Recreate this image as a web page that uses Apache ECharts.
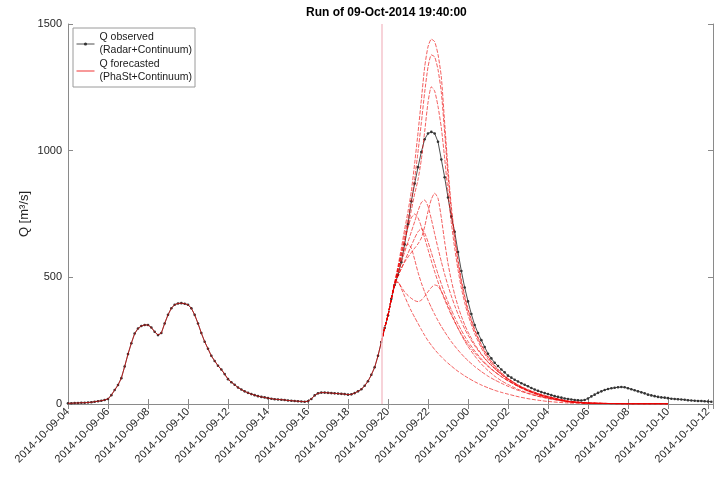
<!DOCTYPE html>
<html>
<head>
<meta charset="utf-8">
<script src="https://cdn.jsdelivr.net/npm/echarts@6/dist/echarts.min.js"></script>
<style>
html,body{margin:0;padding:0;background:#fff;}
#chart{width:715px;height:477px;}
</style>
</head>
<body>
<div id="chart"></div>
<script>
// ---------- DATA ----------
const titleText = 'Run of 09-Oct-2014 19:40:00';
const obsName = 'Q observed\n(Radar+Continuum)';
const fcName = 'Q forecasted\n(PhaSt+Continuum)';
const yLabel = 'Q [m\u00B3/s]';
const yTicks = [0, 500, 1000, 1500];
const obsStart = '2014-10-09T04:00:00Z';
const obsStepMinutes = 10;
const runTime = '2014-10-09T19:40:00Z';
const axisStart = '2014-10-09T04:00:00Z';
const axisEnd = '2014-10-10T12:15:00Z';

// observed discharge, every 10 minutes from 2014-10-09 04:00
const obsValues = [
  3, 3, 4, 4, 5, 5,
  6, 7, 9, 11, 13, 16,
  20, 35, 55, 75, 102, 148,
  197, 240, 278, 298, 308, 312,
  312, 302, 285, 272, 280, 318,
  352, 378, 392, 397, 398, 396,
  392, 378, 352, 318, 280, 246,
  218, 190, 170, 151, 136, 118,
  98, 86, 76, 65, 57, 50,
  44, 39, 35, 31, 28, 26,
  23, 21, 19, 18, 17, 16,
  14, 13, 12, 11, 10, 9,
  11, 20, 34, 42, 45, 45,
  44, 43, 42, 41, 40, 39,
  37, 38, 43, 50, 58, 72,
  90, 115, 145, 190, 245, 300,
  350, 415, 470, 510, 560, 630,
  710, 800, 870, 935, 995, 1045,
  1068, 1074, 1068, 1035, 965, 895,
  815, 740, 680, 600, 525, 460,
  405, 355, 312, 280, 252, 225,
  198, 180, 163, 150, 136, 125,
  112, 104, 96, 89, 82, 76,
  70, 63, 57, 52, 47, 43,
  39, 35, 31, 28, 25, 22,
  20, 18, 16, 15, 14, 16,
  22, 30, 37, 44, 50, 55,
  59, 62, 64, 66, 67, 66,
  62, 58, 54, 50, 46, 42,
  37, 34, 31, 28, 26, 25,
  23, 21, 20, 19, 18, 17,
  15, 14, 13, 12, 12, 11,
  10, 9
];

// forecast time stamps
const fcTimes = [
  '2014-10-09 19:40','2014-10-09 19:50',
  '2014-10-09 20:00','2014-10-09 20:10','2014-10-09 20:20','2014-10-09 20:30','2014-10-09 20:40','2014-10-09 20:50',
  '2014-10-09 21:00','2014-10-09 21:10','2014-10-09 21:20','2014-10-09 21:30','2014-10-09 21:40','2014-10-09 21:50',
  '2014-10-09 22:00','2014-10-09 22:10','2014-10-09 22:20','2014-10-09 22:30','2014-10-09 22:40','2014-10-09 22:50',
  '2014-10-09 23:00','2014-10-09 23:10','2014-10-09 23:20','2014-10-09 23:30','2014-10-09 23:40','2014-10-09 23:50',
  '2014-10-10 00:00','2014-10-10 00:20','2014-10-10 00:40','2014-10-10 01:00','2014-10-10 01:20','2014-10-10 01:40',
  '2014-10-10 02:00','2014-10-10 02:30','2014-10-10 03:00','2014-10-10 03:30','2014-10-10 04:00',
  '2014-10-10 05:00','2014-10-10 06:00','2014-10-10 07:00','2014-10-10 08:00','2014-10-10 09:00','2014-10-10 10:00'
];

// forecast ensemble members
const fc1 = [245,300,350,415,480,545,615,690,760,840,950,1070,1200,1330,1410,1440,1430,1380,1290,1110,930,780,665,570,490,428,375,295,235,188,152,124,101,74,53,38,26,10,4,2,1,1,1];
const fc2 = [245,300,350,415,478,538,600,665,730,800,890,995,1110,1230,1330,1378,1370,1320,1230,1070,900,760,650,560,482,420,368,290,230,184,149,121,98,72,52,37,25,9,4,2,1,1,1];
const fc3 = [245,300,350,415,475,530,585,640,700,765,830,885,965,1075,1190,1252,1235,1175,1090,970,835,715,615,530,458,400,352,278,221,177,143,116,94,69,50,35,24,9,3,2,1,1,1];
const fc4 = [245,300,350,415,468,505,535,560,580,598,615,632,655,700,760,808,832,812,735,640,555,488,432,386,347,313,284,236,198,166,139,117,98,74,55,41,29,11,4,2,1,1,1];
const fc5 = [245,300,350,415,470,515,558,600,640,680,720,762,795,805,780,730,672,615,562,512,467,426,389,355,325,297,272,230,195,165,140,118,100,76,57,42,30,12,4,2,1,1,1];
const fc6 = [245,300,350,415,472,530,590,648,700,735,750,735,700,655,610,565,522,482,445,411,380,351,324,299,276,255,236,202,173,148,127,108,92,70,53,39,28,11,4,2,1,1,1];
const fc7 = [245,300,350,415,470,505,535,565,595,625,655,680,692,675,640,598,555,513,474,437,403,372,343,316,291,268,247,210,178,151,128,108,91,70,53,39,28,11,4,2,1,1,1];
const fc8 = [245,300,350,415,472,525,575,612,632,615,570,520,478,442,410,381,354,329,306,285,265,246,229,213,198,184,171,148,128,110,95,82,70,54,41,30,22,9,3,2,1,1,1];
const fc9 = [245,300,350,415,475,480,462,442,428,417,408,404,410,425,443,460,470,465,445,418,388,357,327,299,273,249,227,190,158,132,110,92,77,58,43,31,22,8,3,2,1,1,1];
const fc10 = [245,300,350,415,478,482,455,425,395,367,342,318,294,271,250,232,215,200,186,173,161,150,139,129,120,111,103,88,75,64,54,46,39,29,21,15,10,4,2,1,1,1,0];
const fcMembers = [fc1, fc2, fc3, fc4, fc5, fc6, fc7, fc8, fc9, fc10];

// ---------- BUILD ----------
const ms = s => new Date(s.indexOf('T') > 0 ? s : s.replace(' ', 'T') + ':00Z').getTime();
const t0 = ms(obsStart);
const step = obsStepMinutes * 60000;
const tRun = ms(runTime);
const obsData = obsValues.map((v, i) => [t0 + i * step, v]);
const histData = obsData.filter(p => p[0] <= tRun);
const fcT = fcTimes.map(ms);

const pad = n => (n < 10 ? '0' : '') + n;
const fmt = v => {
  const d = new Date(v);
  if (d.getUTCMinutes() !== 0 || d.getUTCHours() % 2 !== 0) return '';
  return d.getUTCFullYear() + '-' + pad(d.getUTCMonth() + 1) + '-' + pad(d.getUTCDate()) + '-' + pad(d.getUTCHours());
};

const RED = 'rgba(236,0,0,0.8)';
const AX = '#8a8a8a';
const LBL = '#262626';
const FONT = '"Liberation Sans", Arial, sans-serif';

const series = [];
series.push({
  name: obsName, type: 'line', data: obsData, z: 2,
  symbol: 'circle', symbolSize: 2.6, showSymbol: true,
  lineStyle: { color: '#222', width: 0.8 },
  itemStyle: { color: '#333' },
  markLine: {
    silent: true, symbol: ['none', 'none'], label: { show: false },
    lineStyle: { color: '#f5c4cc', width: 1.5, type: 'solid' },
    data: [{ xAxis: tRun }]
  }
});
series.push({
  name: fcName, type: 'line', data: histData, z: 3, symbol: 'none',
  lineStyle: { color: RED, width: 0.8 }, itemStyle: { color: RED }
});
fcMembers.forEach(m => {
  series.push({
    name: fcName, type: 'line', z: 3, symbol: 'none', smooth: 0.2,
    data: m.map((v, i) => [fcT[i], v]),
    lineStyle: { color: RED, width: 0.8, type: [4, 1.5] }, itemStyle: { color: RED }
  });
});

const xCommon = {
  type: 'value', min: ms(axisStart), max: ms(axisEnd), interval: 7200000,
  splitLine: { show: false },
  axisLine: { show: true, lineStyle: { color: AX, width: 1 } },
  axisTick: { show: true, inside: true, length: 5, lineStyle: { color: AX } }
};
const yCommon = {
  type: 'value', min: yTicks[0], max: yTicks[yTicks.length - 1], interval: yTicks[1] - yTicks[0],
  splitLine: { show: false },
  axisLine: { show: true, lineStyle: { color: AX, width: 1 } },
  axisTick: { show: true, inside: true, length: 5, lineStyle: { color: AX } }
};

const option = {
  animation: false,
  backgroundColor: '#fff',
  textStyle: { fontFamily: FONT },
  title: {
    text: titleText, left: 301, top: 2,
    textStyle: { fontSize: 12, fontWeight: 'bold', color: '#000', fontFamily: FONT }
  },
  grid: { left: 68, right: 2, top: 24, bottom: 73 },
  legend: {
    orient: 'vertical', left: 73, top: 28, padding: [3, 3, 3, 3],
    itemWidth: 18, itemHeight: 4, itemGap: 1, selectedMode: false,
    backgroundColor: '#fff', borderColor: '#9a9a9a', borderWidth: 1, borderRadius: 0,
    textStyle: { fontSize: 10.5, lineHeight: 13, color: '#1a1a1a', fontFamily: FONT },
    data: [
      { name: obsName, lineStyle: { color: '#222', width: 0.8 }, itemStyle: { color: '#333' } },
      { name: fcName, lineStyle: { color: RED, width: 1, type: 'solid' }, itemStyle: { opacity: 0 } }
    ]
  },
  xAxis: [
    Object.assign({}, xCommon, {
      position: 'bottom',
      axisLabel: {
        rotate: 45, fontSize: 11, color: LBL, margin: 6, fontFamily: FONT,
        showMaxLabel: false, formatter: fmt
      }
    }),
    Object.assign({}, xCommon, { position: 'top', axisLabel: { show: false } })
  ],
  yAxis: [
    Object.assign({}, yCommon, {
      position: 'left',
      name: yLabel, nameLocation: 'middle', nameGap: 37, nameRotate: 90,
      nameMoveOverlap: false,
      nameTextStyle: { fontSize: 13, color: LBL, fontFamily: FONT },
      axisLabel: { fontSize: 11, color: LBL, margin: 6, fontFamily: FONT, formatter: v => String(v) }
    }),
    Object.assign({}, yCommon, { position: 'right', axisLabel: { show: false } })
  ],
  series: series
};

const chart = echarts.init(document.getElementById('chart'), null, { renderer: 'canvas' });
chart.setOption(option);
</script>
</body>
</html>
